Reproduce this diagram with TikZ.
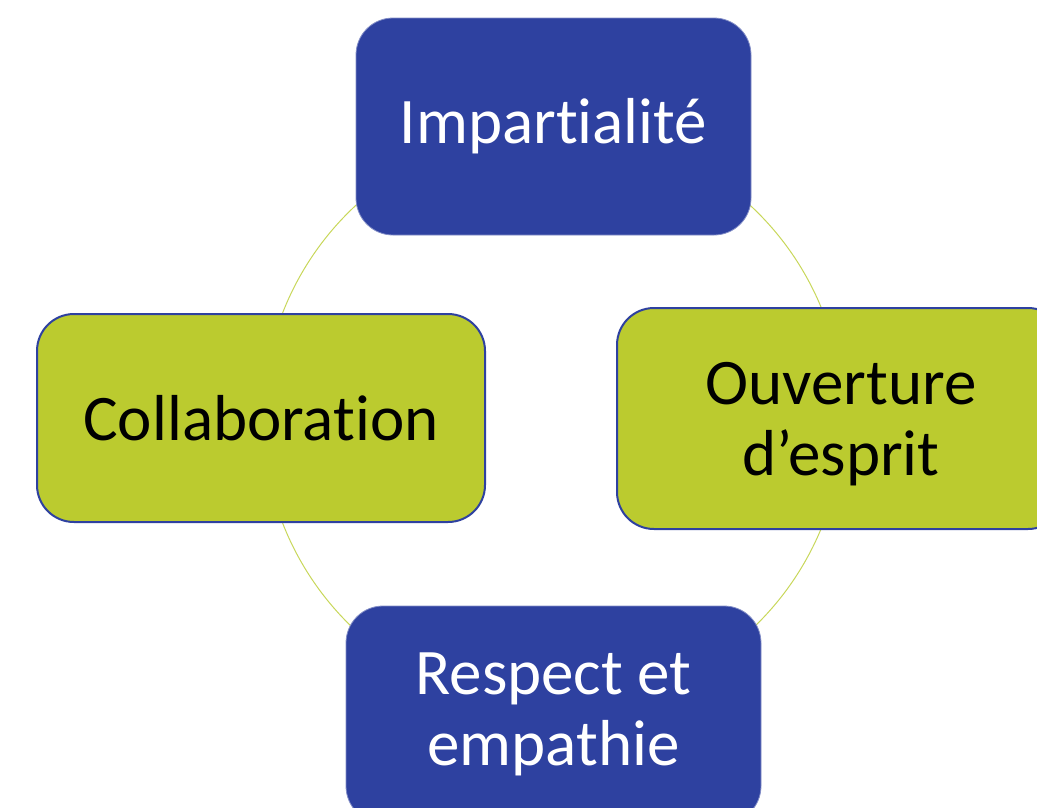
\documentclass[tikz,border=0pt]{standalone}
\usepackage{fontspec}
\setmainfont{Carlito}[RawFeature=-liga]
\definecolor{boxblue}{RGB}{46,65,160}
\definecolor{boxgreen}{RGB}{187,203,47}
\definecolor{ringgreen}{RGB}{200,215,90}
\begin{document}
\begin{tikzpicture}[
    x=1pt, y=-1pt,
    bluebox/.style={rectangle, rounded corners=37pt, draw=boxblue!60!white, line width=0.8pt, fill=boxblue, text=white, align=center, font=\fontsize{65}{71}\selectfont},
    greenbox/.style={rectangle, rounded corners=37pt, draw=boxblue, line width=2pt, fill=boxgreen, text=black, align=center, font=\fontsize{65}{71}\selectfont},
    ring/.style={draw=ringgreen, line width=1pt}
]
\useasboundingbox (0,0) rectangle (1037,807);

% Ring behind the boxes
\coordinate (mid) at (553,418);
\draw[ring] (mid) circle[radius=290pt];

% Boxes
\node[bluebox, minimum width=395pt, minimum height=217pt] (impart) at (553.5,126.5) {Impartialité};
\node[greenbox, minimum width=448pt, minimum height=208pt] (collab) at (261,418) {Collaboration};
\node[greenbox, minimum width=448pt, minimum height=221pt, text depth=0pt] (ouvert) at (841,418.5) {Ouverture\\d’esprit};
\node[bluebox, minimum width=415pt, minimum height=217pt] (respect) at (553.5,714.5) {Respect et\\empathie};
\end{tikzpicture}
\end{document}
